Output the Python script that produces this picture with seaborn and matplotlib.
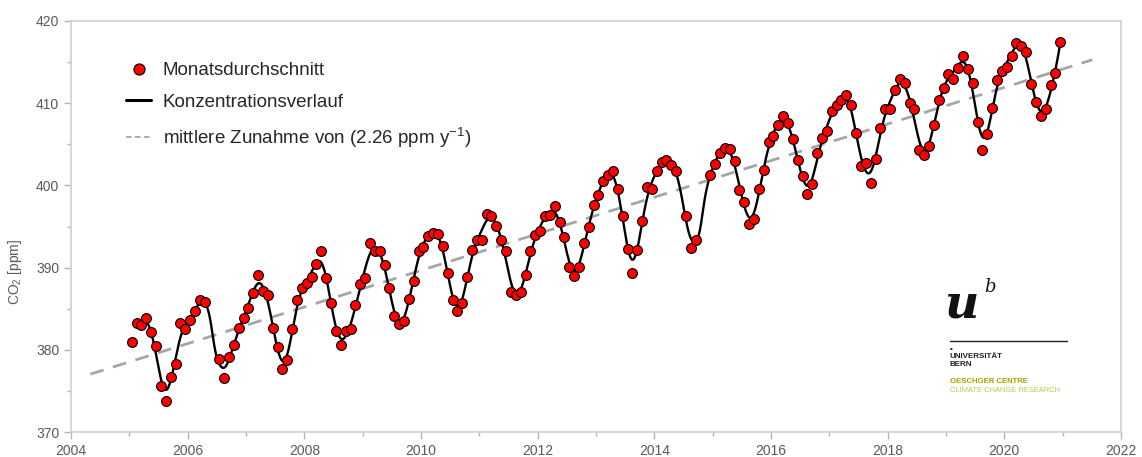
import numpy as np
import pandas as pd
import matplotlib
matplotlib.use('Agg')
import matplotlib.pyplot as plt
from matplotlib.lines import Line2D
from matplotlib.ticker import MultipleLocator
import seaborn as sns

nan = np.nan

# monthly means (ppm), Jan..Dec
years = list(range(2005, 2021))
co2_2005 = [381.0, 383.3, 383.0, 383.9, 382.2, 380.5, 375.6, 373.8, 376.7, 378.3, 383.2, 382.5]
co2_2006 = [383.6, 384.7, 386.1, 385.8, nan, nan, 378.9, 376.6, 379.1, 380.6, 382.6, 383.9]
co2_2007 = [385.1, 386.9, 389.1, 387.1, 386.7, 382.7, 380.3, 377.7, 378.7, 382.5, 386.0, 387.5]
co2_2008 = [388.1, 388.9, 390.4, 392.0, 388.7, 385.7, 382.3, 380.6, 382.3, 382.5, 385.4, 388.0]
co2_2009 = [388.7, 393.0, 392.0, 392.0, 390.3, 387.5, 384.1, 383.1, 383.5, 386.2, 388.4, 392.0]
co2_2010 = [392.5, 393.9, 394.2, 394.1, 392.6, 389.3, 386.1, 384.7, 385.7, 388.9, 392.1, 393.4]
co2_2011 = [393.4, 396.5, 396.3, 395.1, 393.4, 392.0, 387.0, 386.7, 387.0, 389.1, 392.0, 394.0]
co2_2012 = [394.5, 396.3, 396.4, 397.5, 395.5, 393.7, 390.1, 389.0, 390.1, 393.0, 395.0, 397.6]
co2_2013 = [398.8, 400.5, 401.3, 401.7, 399.6, 396.3, 392.3, 389.3, 392.2, 395.7, 399.8, 399.6]
co2_2014 = [401.7, 402.9, 403.1, 402.5, 401.7, nan, 396.3, 392.4, 393.4, nan, nan, 401.3]
co2_2015 = [402.6, 404.0, 404.5, 404.4, 403.0, 399.5, 398.0, 395.3, 395.9, 399.6, 401.9, 405.3]
co2_2016 = [406.0, 407.3, 408.4, 407.6, 405.6, 403.1, 401.2, 399.0, 400.2, 404.0, 405.8, 406.6]
co2_2017 = [409.0, 409.8, 410.4, 411.0, 409.8, 406.4, 402.4, 402.7, 400.3, 403.2, 407.0, 409.3]
co2_2018 = [409.3, 411.6, 412.9, 412.4, 410.0, 409.3, 404.3, 403.7, 404.8, 407.4, 410.4, 411.8]
co2_2019 = [413.6, 413.0, 414.3, 415.8, 414.1, 412.4, 407.7, 404.3, 406.3, 409.4, 412.8, 413.9]
co2_2020 = [414.4, 415.8, 417.3, 417.0, 416.2, 412.3, 410.2, 408.4, 409.3, 412.2, 413.7, 417.4]
monthly = [co2_2005, co2_2006, co2_2007, co2_2008, co2_2009, co2_2010, co2_2011, co2_2012,
           co2_2013, co2_2014, co2_2015, co2_2016, co2_2017, co2_2018, co2_2019, co2_2020]

labels = ["Monatsdurchschnitt", "Konzentrationsverlauf",
          "mittlere Zunahme von (2.26 ppm y$^{-1}$)"]
xticks = list(range(2004, 2023, 2))
yticks = list(range(370, 421, 10))

sns.set_theme(style='white')
plt.rcParams['font.family'] = ['Liberation Sans', 'DejaVu Sans']
plt.rcParams['mathtext.fontset'] = 'custom'
plt.rcParams['mathtext.rm'] = 'Liberation Sans'
plt.rcParams['mathtext.it'] = 'Liberation Sans:italic'

rows = []
for yr, vals in zip(years, monthly):
    for m, v in enumerate(vals):
        rows.append({'t': yr + (m + 0.5) / 12, 'co2': v})
df = pd.DataFrame(rows)
obs = df.dropna().reset_index(drop=True)

# smooth concentration curve: local quadratic fit to the monthly means
tv = obs['t'].values
yv = obs['co2'].values
bw = 1.5 / 12
def local_fit(x0):
    d = tv - x0
    w = np.sqrt(np.exp(-0.5 * (d / bw) ** 2))
    A = np.vstack([np.ones_like(d), d, d ** 2]).T
    coef = np.linalg.lstsq(A * w[:, None], yv * w, rcond=None)[0]
    return coef[0]
grid = np.linspace(tv[0] + 1 / 12, tv[-1], 1500)
smooth = pd.DataFrame({'t': grid, 'co2': [local_fit(x) for x in grid]})

# linear trend
slope, icpt = np.polyfit(tv, yv, 1)
tt = np.array([tv.min() - 0.71, tv.max() + 0.55])
trend = pd.DataFrame({'t': tt, 'co2': icpt + slope * tt})

fig = plt.figure(figsize=(11.42, 4.57), dpi=100)
ax = fig.add_axes([71 / 1142, 1 - 432 / 457, 1050 / 1142, 411 / 457])

sns.lineplot(data=trend, x='t', y='co2', color='#a6a6a6', lw=2.0, ax=ax,
             linestyle=(0, (5, 3.5)), zorder=2)
sns.lineplot(data=smooth, x='t', y='co2', color='black', lw=1.7, ax=ax, zorder=3)
sns.scatterplot(data=obs, x='t', y='co2', color='#ff0000', edgecolor='black',
                linewidth=0.8, s=50, ax=ax, zorder=4)

ax.set_xlim(2004, 2022)
ax.set_ylim(370, 420)
ax.set_xticks(xticks)
ax.set_yticks(yticks)
ax.xaxis.set_minor_locator(MultipleLocator(1))
ax.yaxis.set_minor_locator(MultipleLocator(5))
ax.tick_params(which='both', direction='out', color='#b5b5b5', labelcolor='#5a5a5a',
               labelsize=10, bottom=True, left=True)
ax.tick_params(which='major', length=5, width=1)
ax.tick_params(which='minor', length=3, width=1)
for sp in ax.spines.values():
    sp.set_color('#cfcfcf')
    sp.set_linewidth(1.2)
ax.set_xlabel('')
ax.set_ylabel('CO$_2$ [ppm]', color='#5a5a5a', fontsize=10)
ax.yaxis.set_label_coords(-0.045, 0.39)

handles = [Line2D([], [], marker='o', ls='', mfc='#ff0000', mec='black', mew=0.8, ms=8),
           Line2D([], [], color='black', lw=2.2),
           Line2D([], [], color='#a6a6a6', lw=1.3, ls=(0, (3, 2)))]
leg = ax.legend(handles, labels, loc='upper left', frameon=False,
                bbox_to_anchor=((126 - 71) / 1050, (432 - 62) / 411),
                borderaxespad=0, borderpad=0, fontsize=13.5, handlelength=1.35,
                handletextpad=0.6, labelspacing=0.78)
for txt in leg.get_texts():
    txt.set_color('#262626')

# university logo
fig.text(945 / 1142, 1 - 318 / 457, 'u', family='DejaVu Serif', fontsize=34,
         fontweight='bold', style='italic', color='#111111')
fig.text(984 / 1142, 1 - 292 / 457, 'b', family='DejaVu Serif', fontsize=13,
         style='italic', color='#111111')
fig.add_artist(Line2D([950 / 1142, 1067 / 1142], [1 - 341 / 457, 1 - 341 / 457],
                      color='#222222', lw=1))
fig.text(950 / 1142, 1 - 366 / 457, '▪\nUNIVERSITÄT\nBERN', fontsize=5.8, fontweight='bold',
         color='#222222', linespacing=1.15)
fig.text(950 / 1142, 1 - 383 / 457, 'OESCHGER CENTRE', fontsize=5.6, fontweight='bold',
         color='#a3a300')
fig.text(950 / 1142, 1 - 392 / 457, 'CLIMATE CHANGE RESEARCH', fontsize=5.4,
         color='#c4c45a')

fig.savefig('out.png', dpi=100)
